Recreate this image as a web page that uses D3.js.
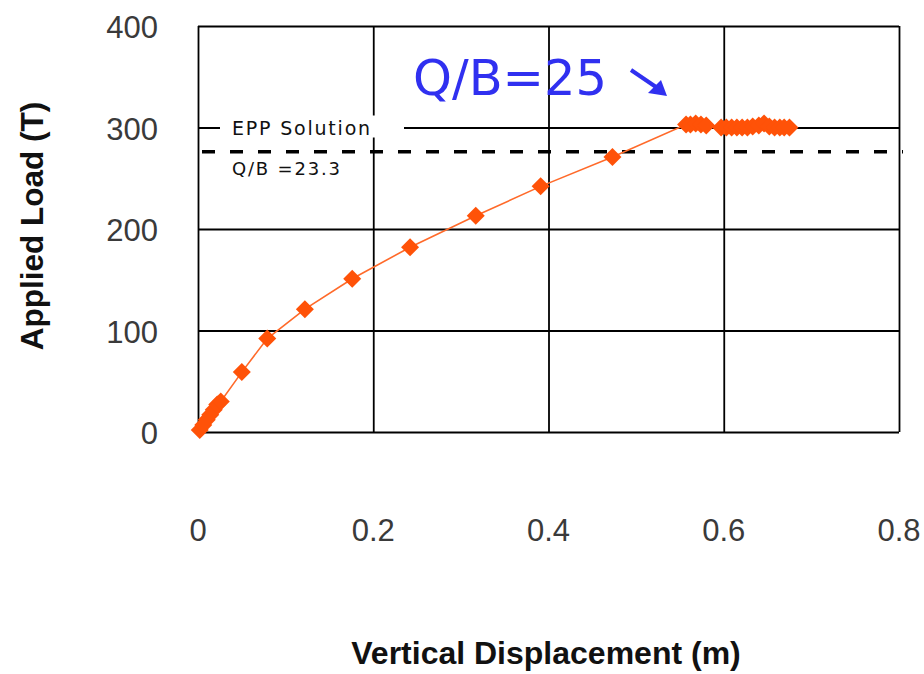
<!DOCTYPE html>
<html>
<head>
<meta charset="utf-8">
<script src="https://d3js.org/d3.v7.min.js"></script>
<style>
  body { margin: 0; background: #fff; }
  svg { display: block; }
</style>
</head>
<body>
<script>

// displacement (m) and load (T)
var dispX = [0.002, 0.006, 0.010, 0.014, 0.018, 0.022, 0.026,
             0.050, 0.079, 0.122, 0.176, 0.242, 0.317, 0.391, 0.473,
             0.557, 0.562, 0.568, 0.574, 0.580,
             0.597, 0.603, 0.609, 0.615, 0.621, 0.627, 0.633, 0.640, 0.646, 0.652,
             0.658, 0.664, 0.669, 0.675];
var loadY = [2, 7, 12, 17, 22, 27, 30,
             59, 92, 121, 151, 182, 213, 242, 271,
             303, 303, 304, 303, 302,
             300, 300, 300, 300, 300, 300, 301, 302, 304, 301,
             300, 300, 300, 300];

var xTicks    = [0, 0.2, 0.4, 0.6, 0.8];
var xTickText = ["0", "0.2", "0.4", "0.6", "0.8"];
var yTicks    = [0, 100, 200, 300, 400];

var eppLoad   = 276;

var W = 924, H = 674;
var mLeft = 198, mRight = 899, mTop = 26, mBottom = 432;

var svg = d3.select("body").append("svg")
    .attr("width", W)
    .attr("height", H);

var x = d3.scaleLinear().domain([0, 0.8]).range([mLeft, mRight]);
var y = d3.scaleLinear().domain([0, 400]).range([mBottom, mTop]);

var sans = "'Liberation Sans', Arial, sans-serif";
var dvs  = "'DejaVu Sans', Verdana, sans-serif";

// grid (vertical + horizontal), drawn with axes
svg.append("g")
    .attr("transform", "translate(0," + mBottom + ")")
    .call(d3.axisBottom(x).tickValues(xTicks).tickSize(-(mBottom - mTop)).tickFormat(""))
    .call(function(g) {
        g.select(".domain").remove();
        g.selectAll("line").attr("stroke", "#000").attr("stroke-width", 1.8);
    });

svg.append("g")
    .attr("transform", "translate(" + mLeft + ",0)")
    .call(d3.axisLeft(y).tickValues(yTicks).tickSize(-(mRight - mLeft)).tickFormat(""))
    .call(function(g) {
        g.select(".domain").remove();
        g.selectAll("line").attr("stroke", "#000").attr("stroke-width", 1.8);
    });

// tick labels
svg.append("g").selectAll("text")
    .data(yTicks)
    .join("text")
    .attr("x", 158)
    .attr("y", function(d) { return y(d) + 12; })
    .attr("text-anchor", "end")
    .attr("font-family", sans)
    .attr("font-size", 31)
    .attr("fill", "#3a3a3a")
    .text(function(d) { return d; });

svg.append("g").selectAll("text")
    .data(xTicks)
    .join("text")
    .attr("x", function(d) { return x(d); })
    .attr("y", 541)
    .attr("text-anchor", "middle")
    .attr("font-family", sans)
    .attr("font-size", 31)
    .attr("fill", "#3a3a3a")
    .text(function(d, i) { return xTickText[i]; });

// axis titles
svg.append("text")
    .attr("transform", "translate(43,226) rotate(-90)")
    .attr("text-anchor", "middle")
    .attr("font-family", sans)
    .attr("font-weight", "bold")
    .attr("font-size", 31.5)
    .attr("fill", "#111")
    .text("Applied Load (T)");

svg.append("text")
    .attr("x", 546)
    .attr("y", 664)
    .attr("text-anchor", "middle")
    .attr("font-family", sans)
    .attr("font-weight", "bold")
    .attr("font-size", 32)
    .attr("fill", "#111")
    .text("Vertical Displacement (m)");

// EPP solution label, with a white patch over the grid line
svg.append("rect")
    .attr("x", 220).attr("y", y(300) - 12)
    .attr("width", 184).attr("height", 22)
    .attr("fill", "#fff");

svg.append("text")
    .attr("x", 232).attr("y", y(300) + 7)
    .attr("font-family", dvs)
    .attr("font-size", 19)
    .attr("letter-spacing", 1.8)
    .attr("fill", "#111")
    .text("EPP Solution");

svg.append("text")
    .attr("x", 232).attr("y", 175)
    .attr("font-family", dvs)
    .attr("font-size", 18)
    .attr("letter-spacing", 1.8)
    .attr("fill", "#111")
    .text("Q/B =23.3");

// EPP dashed line
svg.append("line")
    .attr("x1", 202).attr("x2", 903)
    .attr("y1", y(eppLoad)).attr("y2", y(eppLoad))
    .attr("stroke", "#000")
    .attr("stroke-width", 3.5)
    .attr("stroke-dasharray", "13,15");

// series
var pts = dispX.map(function(d, i) { return [d, loadY[i]]; });

svg.append("path")
    .datum(pts)
    .attr("fill", "none")
    .attr("stroke", "#ff6a2a")
    .attr("stroke-width", 1.6)
    .attr("d", d3.line()
        .x(function(d) { return x(d[0]); })
        .y(function(d) { return y(d[1]); }));

svg.append("g").selectAll("path")
    .data(pts)
    .join("path")
    .attr("transform", function(d) { return "translate(" + x(d[0]) + "," + y(d[1]) + ")"; })
    .attr("d", "M0,-9L9,0L0,9L-9,0Z")
    .attr("fill", "#ff5208");

// Q/B=25 annotation
svg.append("text")
    .attr("x", 413).attr("y", 95)
    .attr("font-family", dvs)
    .attr("font-size", 49.5)
    .attr("fill", "#3030f0")
    .text("Q/B=25");

svg.append("line")
    .attr("x1", 631).attr("y1", 70)
    .attr("x2", 656).attr("y2", 87)
    .attr("stroke", "#3030f0")
    .attr("stroke-width", 4);

svg.append("path")
    .attr("d", "M667,96L648,93L661,80Z")
    .attr("fill", "#3030f0");

</script>
</body>
</html>
